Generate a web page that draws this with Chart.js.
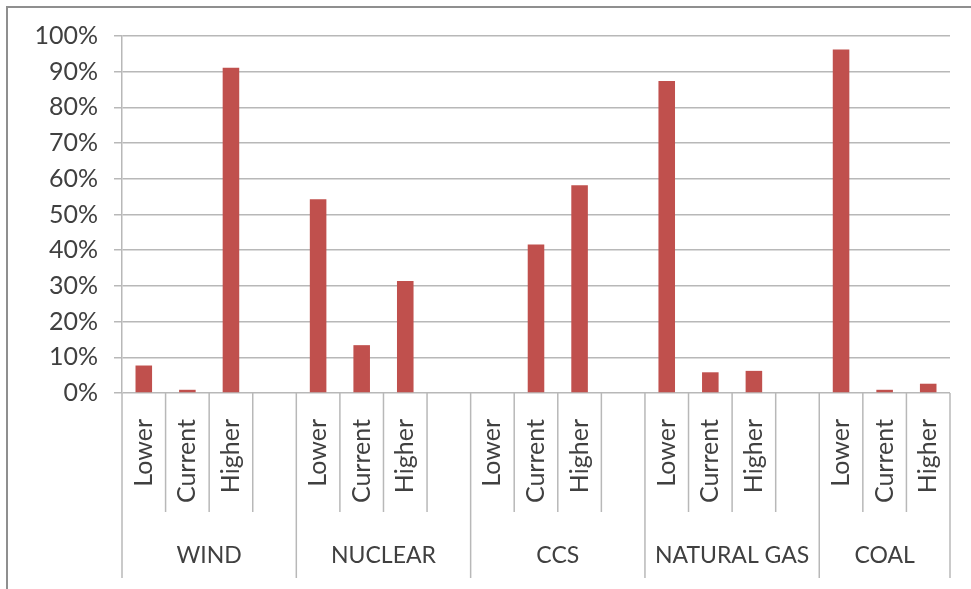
<!DOCTYPE html>
<html>
<head>
<meta charset="utf-8">
<script src="https://cdn.jsdelivr.net/npm/chart.js@4/dist/chart.umd.min.js"></script>
<style>
  html, body { margin: 0; padding: 0; background: #ffffff; }
  #wrap { position: relative; width: 971px; height: 589px; }
</style>
</head>
<body>
<div id="wrap"><canvas id="c" width="971" height="589"></canvas></div>
<script>
// ---- data ----
const categories = [
  "Lower", "Current", "Higher", "",
  "Lower", "Current", "Higher", "",
  "Lower", "Current", "Higher", "",
  "Lower", "Current", "Higher", "",
  "Lower", "Current", "Higher"
];
const groupNames = ["WIND", "NUCLEAR", "CCS", "NATURAL GAS", "COAL"];
const groupSizes = [4, 4, 4, 4, 3];
const shareValues = [
  7.7, 0.9, 91.1, null,
  54.3, 13.4, 31.4, null,
  0, 41.6, 58.2, null,
  87.4, 5.8, 6.2, null,
  96.2, 0.9, 2.6
];
const yTickValues = [0, 10, 20, 30, 40, 50, 60, 70, 80, 90, 100];

// ---- style ----
const FONT = "Lato, 'Open Sans', sans-serif";
const TEXT = "#404040";
const GRID = "#b8b8b8";

const groupAxisPlugin = {
  id: "groupAxis",
  afterDraw(chart) {
    const ctx = chart.ctx;
    const xs = chart.scales.x;
    const ca = chart.chartArea;
    const n = categories.length;
    const edge = (i) => {
      if (i <= 0) return xs.left;
      if (i >= n) return xs.right;
      return (xs.getPixelForValue(i - 1) + xs.getPixelForValue(i)) / 2;
    };
    const groupStarts = [];
    let acc = 0;
    groupSizes.forEach(s => { groupStarts.push(acc); acc += s; });
    groupStarts.push(acc);

    ctx.save();
    ctx.strokeStyle = GRID;
    ctx.lineWidth = 1.5;
    const shortBottom = ca.bottom + 119;
    const longBottom = ca.bottom + 185;
    for (let i = 0; i <= n; i++) {
      const x = edge(i);
      const isGroupEdge = groupStarts.includes(i);
      ctx.beginPath();
      ctx.moveTo(x, ca.bottom);
      ctx.lineTo(x, isGroupEdge ? longBottom : shortBottom);
      ctx.stroke();
    }
    // group labels
    ctx.fillStyle = TEXT;
    ctx.font = "23px " + FONT;
    ctx.textAlign = "center";
    ctx.textBaseline = "middle";
    for (let g = 0; g < groupNames.length; g++) {
      const x0 = edge(groupStarts[g]);
      const x1 = edge(groupStarts[g] + groupSizes[g]);
      ctx.fillText(groupNames[g], (x0 + x1) / 2, ca.bottom + 163);
    }
    // outer frame (cropped: left and top edges)
    ctx.strokeStyle = "#8f8f8f";
    ctx.lineWidth = 2;
    ctx.beginPath();
    ctx.moveTo(7, chart.height);
    ctx.lineTo(7, 7);
    ctx.lineTo(chart.width, 7);
    ctx.stroke();
    ctx.restore();
  }
};

new Chart(document.getElementById("c"), {
  type: "bar",
  data: {
    labels: categories,
    datasets: [{
      data: shareValues,
      backgroundColor: "#C0504D",
      borderWidth: 0,
      barPercentage: 0.38,
      categoryPercentage: 1.0
    }]
  },
  options: {
    responsive: false,
    animation: false,
    devicePixelRatio: 1,
    layout: { padding: { top: 36, right: 21, left: 0, bottom: 0 } },
    plugins: {
      legend: { display: false },
      tooltip: { enabled: false },
      title: { display: false }
    },
    scales: {
      x: {
        offset: true,
        grid: { display: false, drawTicks: false },
        border: { display: false },
        ticks: {
          autoSkip: false,
          maxRotation: 90,
          minRotation: 90,
          padding: 26,
          color: TEXT,
          font: { family: FONT, size: 25 }
        },
        afterFit(scale) { scale.height = 196; scale.paddingRight = 0; scale.paddingLeft = 0; }
      },
      y: {
        min: 0,
        max: 100,
        afterBuildTicks(scale) { scale.ticks = yTickValues.map(v => ({ value: v })); },
        grid: { color: GRID, lineWidth: 1.5, tickLength: 8 },
        border: { display: true, color: GRID, width: 1.5 },
        ticks: {
          padding: 16,
          color: TEXT,
          font: { family: FONT, size: 25 },
          callback: (v) => v + "%"
        },
        afterFit(scale) { scale.width = 122; scale.paddingTop = 0; scale.paddingBottom = 0; }
      }
    }
  },
  plugins: [groupAxisPlugin]
});
</script>
</body>
</html>
